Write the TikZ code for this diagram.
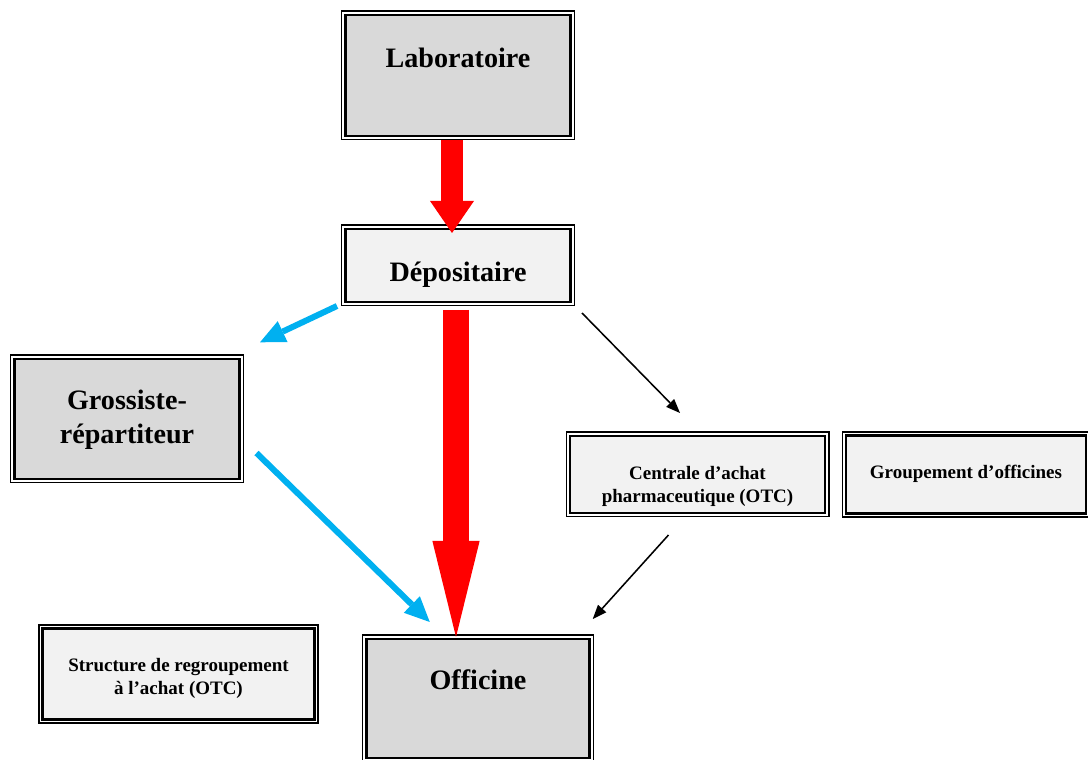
\documentclass[tikz,border=0pt]{standalone}
\usepackage{fontspec}
\setmainfont{Liberation Serif}
\usepackage{tikz}
\usetikzlibrary{arrows.meta}

\definecolor{grisfonce}{HTML}{D9D9D9}
\definecolor{grisclair}{HTML}{F2F2F2}
\definecolor{bleuclair}{HTML}{00B0F0}
\newcommand{\px}{0.025cm}

\begin{document}
\begin{tikzpicture}[x=0.025cm,y=-0.025cm,
  boite/.style={draw=black,line width=2.1pt,inner sep=0pt,outer sep=0pt,align=center,
    preaction={draw=black,line width=1pt,double=white,double distance=4.4pt},
    font=\bfseries\fontsize{20}{24}\selectfont},
  fonce/.style={boite,fill=grisfonce},
  clair/.style={boite,fill=grisclair},
  petit/.style={font=\bfseries\fontsize{13.5}{16.6}\selectfont},
  fleche bleue/.style={bleuclair,line width=4.3pt,-{Triangle[width=16.4pt,length=17.8pt,line width=0pt]}},
  fleche noire/.style={black,line width=1.1pt,-{Triangle[width=8pt,length=10pt,line width=0pt]}}]

\useasboundingbox (0,0) rectangle (1088,760);

% les boites
\node [fonce,minimum width=225*\px,text height=53*\px,text depth=68*\px] (lab) at (458,75.5) {Laboratoire};
\node [clair,minimum width=225*\px,text height=52.7*\px,text depth=20.3*\px] (dep) at (458,265.5) {Dépositaire};
\node [fonce,minimum width=225*\px,text height=84.3*\px,text depth=35.7*\px] (gros) at (127,419) {Grossiste-\\répartiteur};
\node [clair,petit,minimum width=255*\px,text height=66.5*\px,text depth=10.5*\px] (centr) at (697.5,474.5) {Centrale d’achat\\pharmaceutique (OTC)};
\node [clair,petit,minimum width=240*\px,text height=42.7*\px,text depth=34.6*\px] (group) at (966,474.5) {Groupement d’officines};
\node [clair,petit,minimum width=271.6*\px,text height=66*\px,text depth=24.3*\px] (struct) at (178.5,674) {Structure de regroupement\\à l’achat (OTC)};
\node [fonce,minimum width=223.5*\px,text height=51*\px,text depth=68*\px] (offi) at (478,698.5) {Officine};

% les fleches rouges
\draw [red,line width=15.4pt,-{Triangle[width=31.3pt,length=22.8pt,line width=0pt]}] ([shift={(-6,4)}]lab.south) -- ([shift={(-6,4)}]dep.north);
\draw [red,line width=19pt,-{Triangle[width=33.6pt,length=68.3pt,line width=0pt]}] ([shift={(-2,8)}]dep.south) -- ([shift={(-22,-2)}]offi.north);

% les fleches bleues
\draw [fleche bleue] ([shift={(-8.5,4)}]dep.south west) -- ([shift={(20.5,-16.7)}]gros.north east);
\draw [fleche bleue] ([shift={(17,34)}]gros.east) -- ([shift={(63.5,-17)}]offi.north west);

% les fleches noires
\draw [fleche noire] ([shift={(11.5,11)}]dep.south east) -- ([shift={(-17.5,-23)}]centr.north);
\draw [fleche noire] ([shift={(-29,22)}]centr.south) -- ([shift={(3,-20)}]offi.north east);

\end{tikzpicture}
\end{document}
